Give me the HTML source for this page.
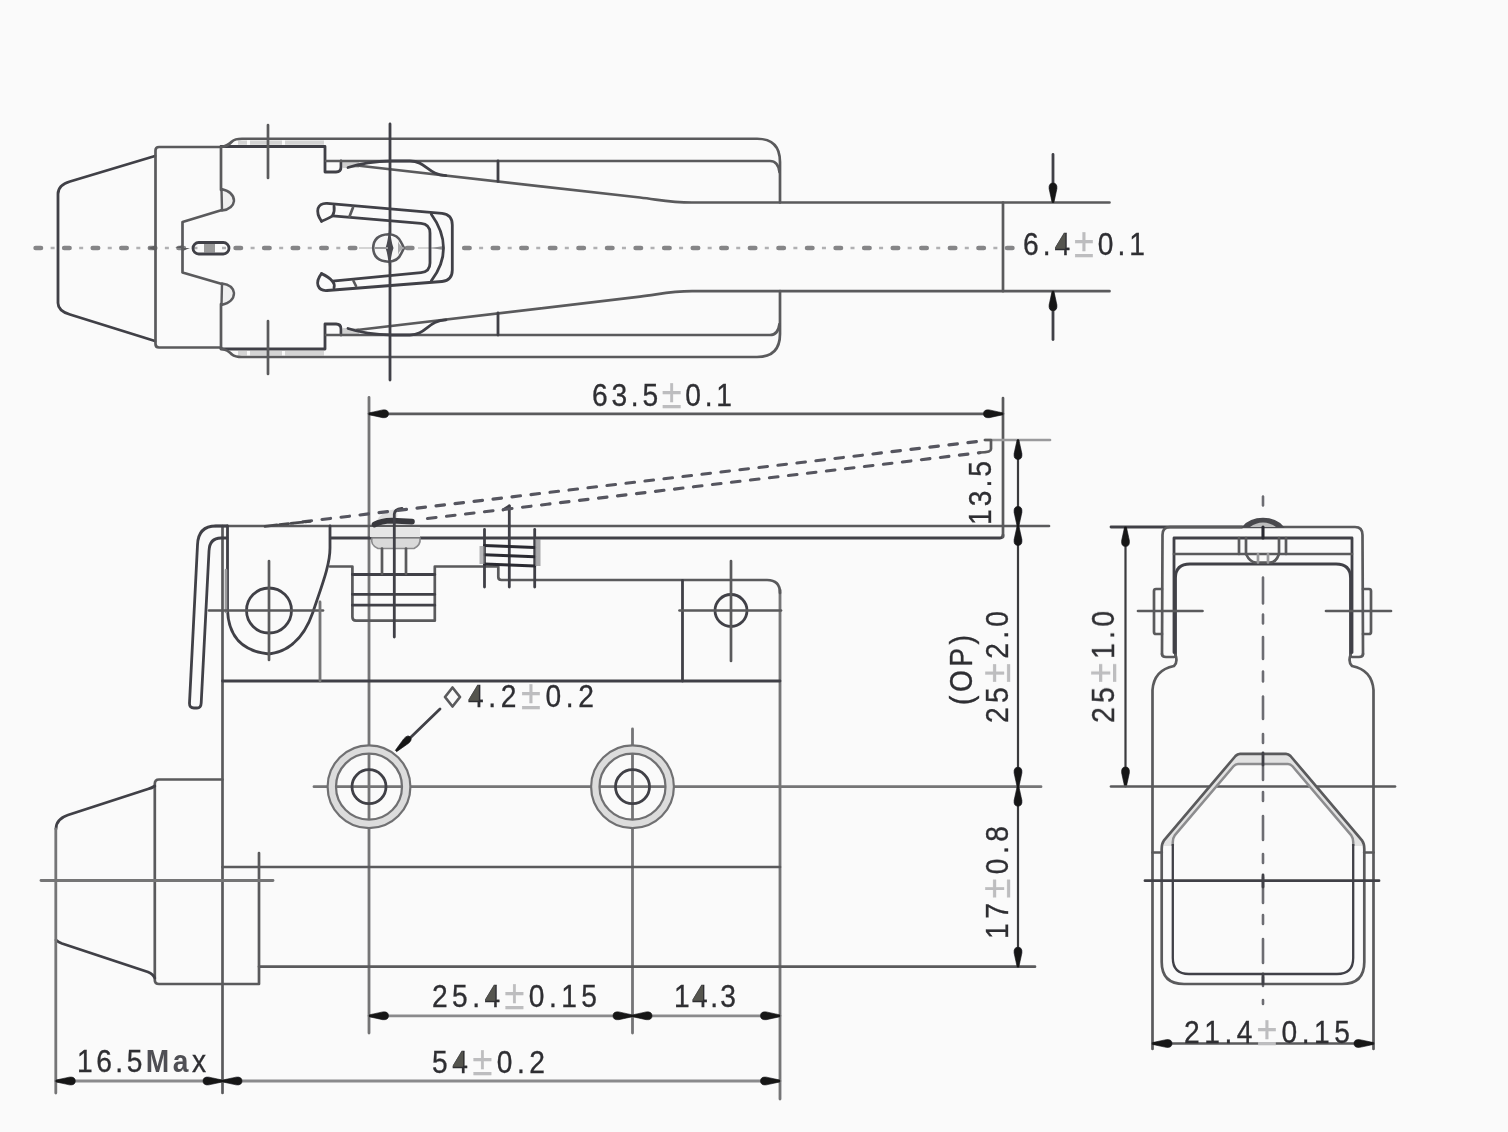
<!DOCTYPE html>
<html><head><meta charset="utf-8"><title>Limit switch dimensions</title>
<style>
html,body{margin:0;padding:0;background:#fafafa;}
body{width:1508px;height:1132px;overflow:hidden;font-family:"Liberation Sans",sans-serif;}
svg{display:block;}
.l{fill:none;stroke:#5a5a5c;stroke-width:2.7;stroke-linecap:round;stroke-linejoin:round;}
.d{fill:none;stroke:#404046;stroke-width:2.8;stroke-linecap:round;stroke-linejoin:round;}
.k{fill:none;stroke:#2c2c30;stroke-width:3.1;stroke-linecap:round;stroke-linejoin:round;}
.g{fill:none;stroke:#747476;stroke-width:2.8;stroke-linecap:round;stroke-linejoin:round;}
.lg{fill:none;stroke:#9a9a9c;stroke-width:2.7;stroke-linecap:round;}
.cl{fill:none;stroke:#858587;stroke-width:4.6;stroke-dasharray:5.4 23.17;stroke-linecap:round;}
.cd{fill:none;stroke:#b0b0b2;stroke-width:2.6;stroke-dasharray:4 24.57;}
.vcl{fill:none;stroke:#6c6c72;stroke-width:2.6;stroke-linecap:round;}
.dash{fill:none;stroke:#55555e;stroke-width:3.1;stroke-dasharray:8.6 10.53;stroke-linecap:round;}
.dl{fill:none;stroke:#8a8a8c;stroke-width:2.8;stroke-linecap:round;}
.dm{fill:none;stroke:#3a3a3e;stroke-width:2.2;stroke-linecap:round;}
.ah{fill:#141416;stroke:#141416;stroke-width:0.6;stroke-linejoin:round;}
.gf{fill:#cfcfcf;stroke:none;}
.t{font-family:"Liberation Sans",sans-serif;fill:#2e2e32;stroke:#2e2e32;stroke-width:0.35px;}
.pm{fill:#bdbdbf;stroke:#bdbdbf;}
</style></head><body>
<svg width="1508" height="1132" viewBox="0 0 1508 1132">
<rect x="0" y="0" width="1508" height="1132" fill="#fafafa"/>
<defs><filter id="soft" x="0" y="0" width="100%" height="100%" filterUnits="userSpaceOnUse"><feGaussianBlur stdDeviation="0.7"/></filter></defs>
<g filter="url(#soft)">
<line class="cl" x1="35.6" y1="248" x2="357" y2="248"/>
<line class="cl" x1="407" y1="248" x2="413" y2="248"/>
<line class="cl" x1="464.2" y1="248" x2="1014.5" y2="248"/>
<line class="cd" x1="50.6" y1="248" x2="345" y2="248"/>
<line class="cd" x1="479.1" y1="248" x2="1010" y2="248"/>
<path d="M359,248 H374 M418,248 H442" stroke="#c8c8c8" stroke-width="1.6" fill="none"/>
<path d="M431,248 L442,246.2 V249.8 Z" fill="#8a8a8c"/>
<path d="M238,142.6 H324" stroke="#d4d4d4" stroke-width="4.4" stroke-dasharray="9 3 32 3 40 3" fill="none"/>
<path d="M238,353.2 H324" stroke="#d4d4d4" stroke-width="4.4" stroke-dasharray="9 3 32 3 40 3" fill="none"/>
<path class="d" d="M155,156 L70,181.5 Q58,185 58,194 V303 Q58,311 70,314.5 L155,341"/>
<path class="l" d="M221,147 H159 Q155.5,147 155.5,150.5 V344 Q155.5,347.5 159,347.5 H221"/>
<path class="l" d="M221,147 V190 M222,210 L182.5,222 V272.5 L222,284 M221,304 V347.5"/>
<path d="M221.5,189 Q234,192 234,201 Q233,209 222,210.5 Z" fill="#efefef" stroke="#5c5c5e" stroke-width="2.4" stroke-linejoin="round"/>
<path d="M221.5,305 Q234,302 234,293 Q233,285 222,283.5 Z" fill="#efefef" stroke="#5c5c5e" stroke-width="2.4" stroke-linejoin="round"/>
<rect x="204" y="243.5" width="11" height="9" fill="#9a9a9a"/>
<rect class="d" x="193" y="242.5" width="36" height="11.5" rx="5.7"/>
<path d="M148,248 L155.5,245.5 L155.5,250.5 Z M175,248 L182.5,245 L182.5,251 L190,248 Z" fill="#5c5c5e"/>
<path class="d" d="M221,146.5 H325 V172 H336 Q341,172 341,167 V161"/>
<path class="d" d="M221,349 H325 V324 H336 Q341,324 341,329 V335"/>
<rect class="gf" x="343" y="161" width="16" height="7" fill="#bdbdbd"/>
<rect class="gf" x="343" y="328" width="16" height="7" fill="#bdbdbd"/>
<path class="l" d="M221,147 Q228,146 232,141.5 Q235,138.75 242,138.75 H757 Q780,138.75 780,162 V202.5"/>
<path class="l" d="M221,348.5 Q228,350 232,354.5 Q235,357 242,357 H757 Q780,357 780,334 V291"/>
<path class="l" d="M326,161 H770 Q778,161 779.5,172"/>
<path class="l" d="M326,335 H770 Q778,335 779.5,324"/>
<path class="l" d="M357,165.5 L640,197.5 C660,199.8 670,202.5 692,202.5 H1109.5"/>
<path class="l" d="M357,330 L640,296.6 C660,294.2 670,291.2 692,291.2 H1109.5"/>
<line class="l" x1="1003" y1="202.5" x2="1003" y2="291.2"/>
<path class="d" d="M348,167.5 Q366,161.5 392,161 H410 C426,161 428,175 446,175.6"/>
<path class="d" d="M348,328.5 Q366,334.5 392,335 H410 C426,335 428,320.5 446,319.8"/>
<line class="d" x1="498" y1="161" x2="498" y2="181.4"/>
<line class="d" x1="498" y1="313" x2="498" y2="335"/>
<line class="l" x1="268" y1="125" x2="268" y2="178"/>
<line class="l" x1="268" y1="321" x2="268" y2="374"/>
<line class="d" x1="390" y1="124" x2="390" y2="380"/>
<path class="d" d="M321.5,221.3 Q316.5,214 318,208.5 Q320,203 327,203.4 L442,213.4 Q452.3,214.5 452.3,225 V270 Q452.3,280.5 442,281.5 L327,290.5 Q320,291 318,285.5 Q316.5,280 321.5,273.6"/>
<path class="d" d="M321.5,221.3 Q330,217.5 332.5,215.8 Q335,211 334,206 M321.5,273.6 Q329,277 332.5,281.3 Q335,284 334,288"/>
<path class="d" d="M332.5,215.8 L421,223.4 Q430,224.3 430,233 V263 Q430,271.7 421,272.6 L332.5,281.2"/>
<path class="l" d="M353,207.5 L349.5,216.5 M353.5,281 L356,286"/>
<path class="d" d="M431.3,214.2 Q443.5,231 443.5,248 Q443.5,265 431.3,280.8"/>
<path d="M388.5,234.3 Q398,234.5 401.5,243 L404,248 L401.5,253 Q398,261.5 388.5,261.7 Q373.5,261 373.2,248 Q373.5,235 388.5,234.3 Z" fill="#f6f6f6" stroke="#58585c" stroke-width="2.6"/>
<path d="M398,241 Q399,246 405,248 Q399,250 398,255 Z" fill="#a8a8aa"/>
<path d="M389.5,224 Q391,242 393.5,248 Q391,254 389.5,272 Q388,254 385.5,248 Q388,242 389.5,224 Z" fill="#4a4a50"/>
<path d="M374,248 H388" stroke="#9a9a9c" stroke-width="2" fill="none"/>
<line class="d" x1="1053" y1="154.5" x2="1053" y2="200"/>
<line class="d" x1="1053" y1="294" x2="1053" y2="339.5"/>
<path class="ah" d="M0,-0.9 L13.6,-3.87 Q19.5,-4.51 19.5,0 Q19.5,4.51 13.6,3.87 L0,0.9 Z" transform="translate(1053,202.5) rotate(-90)"/>
<path class="ah" d="M0,-0.9 L13.6,-3.87 Q19.5,-4.51 19.5,0 Q19.5,4.51 13.6,3.87 L0,0.9 Z" transform="translate(1053,291.2) rotate(90)"/>
<g transform="translate(1023,255) scale(0.88,1)"><text id="t1" class="t" x="0" y="0" font-size="32" textLength="138.6" lengthAdjust="spacing">6.4<tspan class="pm" font-size="41" dy="2">±</tspan><tspan dy="-2">0.1</tspan></text><polygon points="47.5,-21.3 37.2,-6.9 47.5,-6.9" fill="#55554f" stroke="#55554f" stroke-width="1.2" stroke-linejoin="round"/></g>
<line class="g" x1="369" y1="397.5" x2="369" y2="1033"/>
<line class="g" x1="632.5" y1="729" x2="632.5" y2="1033"/>
<line class="l" x1="222.5" y1="526" x2="222.5" y2="1093"/>
<line class="g" x1="780" y1="590" x2="780" y2="1099"/>
<line class="l" x1="215" y1="526" x2="1049" y2="526"/>
<path class="d" d="M331,538 H1000 Q1003,538 1003,535"/>
<line class="l" x1="1003" y1="398" x2="1003" y2="537"/>
<line class="d" x1="222.5" y1="681" x2="780" y2="681"/>
<line class="l" x1="222.5" y1="867" x2="780" y2="867"/>
<line class="l" x1="259" y1="966.7" x2="1035" y2="966.7"/>
<line class="g" x1="314" y1="786.7" x2="1041" y2="786.7"/>
<path class="d" d="M227,526 H216 Q198,526 197.5,545 L189.5,703 Q189.3,708 194,708 H197 Q201,708 201.2,703 L209,551 Q209.5,538 221,538 H227"/>
<path class="d" d="M227.5,526 V610 Q229,650 269,654 Q300,650 313,612 C322,585 330,565 330,548 V526"/>
<line class="lg" x1="226" y1="570" x2="226" y2="612"/>
<circle class="d" cx="269" cy="610.5" r="22.5"/>
<line class="l" x1="209" y1="610.5" x2="323" y2="610.5"/>
<line class="l" x1="269" y1="561" x2="269" y2="660"/>
<line class="g" x1="320" y1="602" x2="320" y2="681"/>
<path class="l" d="M330,566.5 H352.4 V617 Q352.4,620.7 356,620.7 H434.8 V566.5 H498.3 V577 Q498.3,580 501.5,580 H767 Q780,580 780,593"/>
<path class="d" d="M352.4,574.5 H434.8 M352.4,594.3 H434.8 M352.4,605.2 H434.8"/>
<rect x="370" y="527" width="50" height="10" fill="#e6e6e6"/>
<path d="M372,538 H420 Q421,545 414,548.5 H378 Q370,545 372,538 Z" fill="#d9d9d9" stroke="#8a8a8c" stroke-width="1.6"/>
<line class="l" x1="382" y1="548.5" x2="382" y2="574"/>
<line class="l" x1="406" y1="548.5" x2="406" y2="574"/>
<path d="M376,522 Q382,510 394,509.5 Q400,510 396,520 Z" fill="#dedede"/>
<path d="M374.5,524.5 Q381,520.8 392,520.6 L412,521.6" fill="none" stroke="#38383c" stroke-width="5.6" stroke-linecap="round"/>
<path class="d" d="M394.3,637 V514 Q394.3,509.5 402,508.5"/>
<line class="d" x1="484.5" y1="529.5" x2="484.5" y2="587"/>
<line class="d" x1="509.3" y1="506" x2="509.3" y2="587"/>
<line class="d" x1="534.7" y1="529.5" x2="534.7" y2="587"/>
<path class="d" d="M503,510 L509.3,506"/>
<path class="k" d="M484.5,545.5 L534.7,547.5"/>
<path class="k" d="M484.5,554.8 L534.7,556.8"/>
<path class="k" d="M484.5,564 L534.7,566"/>
<rect x="479.5" y="546" width="5" height="18" fill="#9a9a9c" opacity="0.7"/>
<rect x="535" y="539" width="5.5" height="27" fill="#88888a" opacity="0.7"/>
<line class="d" x1="682.5" y1="580.5" x2="682.5" y2="681"/>
<circle class="d" cx="731" cy="610.5" r="16"/>
<line class="l" x1="679.5" y1="610.5" x2="781" y2="610.5"/>
<line class="l" x1="731" y1="561" x2="731" y2="661"/>
<circle cx="369" cy="786.7" r="37.2" fill="none" stroke="#dcdcdc" stroke-width="8.5"/>
<circle cx="369" cy="786.7" r="41.4" fill="none" stroke="#707072" stroke-width="2.2"/>
<circle cx="369" cy="786.7" r="33" fill="none" stroke="#707072" stroke-width="2.2"/>
<circle class="d" cx="369" cy="786.7" r="17"/>
<circle cx="632.5" cy="786.7" r="37.2" fill="none" stroke="#dcdcdc" stroke-width="8.5"/>
<circle cx="632.5" cy="786.7" r="41.4" fill="none" stroke="#707072" stroke-width="2.2"/>
<circle cx="632.5" cy="786.7" r="33" fill="none" stroke="#707072" stroke-width="2.2"/>
<circle class="d" cx="632.5" cy="786.7" r="17"/>
<path class="l" d="M222.5,779.5 H159 Q154.8,779.5 154.8,784 V980 Q154.8,984 159,984 H259 V853"/>
<path class="d" d="M154.8,786 Q152,788 148,789 L68,815 Q56,819 56,829"/>
<path class="d" d="M56,940 Q58,942 62,943.5 L148,972 Q153,974 154.8,978"/>
<line class="g" x1="55.8" y1="829" x2="55.8" y2="1093"/>
<line class="g" x1="41" y1="880.5" x2="273" y2="880.5"/>
<line class="dash" x1="303" y1="521.7" x2="979" y2="441.3"/>
<line class="dash" x1="427.5" y1="518.5" x2="980" y2="452.7"/>
<path d="M265,526.3 L310,521.3" fill="none" stroke="#4a4a4e" stroke-width="2.8" stroke-dasharray="12 2.5 9 2.5" stroke-linecap="round"/>
<path class="lg" d="M985,440 H1050"/>
<path class="l" d="M985,440 H991 V449 Q991,452.5 980,452.5"/>
<line class="d" x1="440" y1="709" x2="410" y2="738"/>
<path class="ah" d="M0,-0.9 L14.0,-3.24 Q20,-3.78 20,0 Q20,3.78 14.0,3.24 L0,0.9 Z" transform="translate(396,751) rotate(-44.5)"/>
<line class="l" x1="369" y1="413.8" x2="1003" y2="413.8"/>
<path class="ah" d="M0,-0.9 L13.6,-3.87 Q19.5,-4.51 19.5,0 Q19.5,4.51 13.6,3.87 L0,0.9 Z" transform="translate(369,413.8) rotate(0)"/>
<path class="ah" d="M0,-0.9 L13.6,-3.87 Q19.5,-4.51 19.5,0 Q19.5,4.51 13.6,3.87 L0,0.9 Z" transform="translate(1003,413.8) rotate(180)"/>
<g transform="translate(592,406) scale(0.88,1)"><text id="t2" class="t" x="0" y="0" font-size="32" textLength="159.1" lengthAdjust="spacing">63.5<tspan class="pm" font-size="41" dy="2">±</tspan><tspan dy="-2">0.1</tspan></text></g>
<line class="dm" x1="1018" y1="440" x2="1018" y2="966.7"/>
<path class="ah" d="M0,-0.9 L13.6,-3.87 Q19.5,-4.51 19.5,0 Q19.5,4.51 13.6,3.87 L0,0.9 Z" transform="translate(1018,440) rotate(90)"/>
<path class="ah" d="M0,-0.9 L13.6,-3.87 Q19.5,-4.51 19.5,0 Q19.5,4.51 13.6,3.87 L0,0.9 Z" transform="translate(1018,526) rotate(-90)"/>
<path class="ah" d="M0,-0.9 L13.6,-3.87 Q19.5,-4.51 19.5,0 Q19.5,4.51 13.6,3.87 L0,0.9 Z" transform="translate(1018,526) rotate(90)"/>
<path class="ah" d="M0,-0.9 L13.6,-3.87 Q19.5,-4.51 19.5,0 Q19.5,4.51 13.6,3.87 L0,0.9 Z" transform="translate(1018,786.7) rotate(-90)"/>
<path class="ah" d="M0,-0.9 L13.6,-3.87 Q19.5,-4.51 19.5,0 Q19.5,4.51 13.6,3.87 L0,0.9 Z" transform="translate(1018,786.7) rotate(90)"/>
<path class="ah" d="M0,-0.9 L13.6,-3.87 Q19.5,-4.51 19.5,0 Q19.5,4.51 13.6,3.87 L0,0.9 Z" transform="translate(1018,966.7) rotate(-90)"/>
<g transform="translate(991,525) rotate(-90) scale(0.88,1)"><text id="t3" class="t" x="0" y="0" font-size="32" textLength="72.7" lengthAdjust="spacing">13.5</text></g>
<g transform="translate(972,705) rotate(-90) scale(0.88,1)"><text id="t4" class="t" x="0" y="0" font-size="32" textLength="79.5" lengthAdjust="spacing">(OP)</text></g>
<g transform="translate(1007.5,723) rotate(-90) scale(0.88,1)"><text id="t5" class="t" x="0" y="0" font-size="32" textLength="127.3" lengthAdjust="spacing">25<tspan class="pm" font-size="41" dy="2">±</tspan><tspan dy="-2">2.0</tspan></text></g>
<g transform="translate(1007.5,939) rotate(-90) scale(0.88,1)"><text id="t6" class="t" x="0" y="0" font-size="32" textLength="128.4" lengthAdjust="spacing">17<tspan class="pm" font-size="41" dy="2">±</tspan><tspan dy="-2">0.8</tspan></text></g>
<path class="l" d="M452.5,687.5 L460,697 L452.5,706.5 L445,697 Z"/>
<g transform="translate(468,707) scale(0.88,1)"><text id="t7" class="t" x="0" y="0" font-size="32" textLength="143.2" lengthAdjust="spacing">4.2<tspan class="pm" font-size="41" dy="2">±</tspan><tspan dy="-2">0.2</tspan></text><polygon points="11.7,-21.3 1.4,-6.9 11.7,-6.9" fill="#55554f" stroke="#55554f" stroke-width="1.2" stroke-linejoin="round"/></g>
<line class="dl" x1="369" y1="1015.8" x2="780" y2="1015.8"/>
<path class="ah" d="M0,-0.9 L13.6,-3.87 Q19.5,-4.51 19.5,0 Q19.5,4.51 13.6,3.87 L0,0.9 Z" transform="translate(369,1015.8) rotate(0)"/>
<path class="ah" d="M0,-0.9 L13.6,-3.87 Q19.5,-4.51 19.5,0 Q19.5,4.51 13.6,3.87 L0,0.9 Z" transform="translate(632.5,1015.8) rotate(180)"/>
<path class="ah" d="M0,-0.9 L13.6,-3.87 Q19.5,-4.51 19.5,0 Q19.5,4.51 13.6,3.87 L0,0.9 Z" transform="translate(632.5,1015.8) rotate(0)"/>
<path class="ah" d="M0,-0.9 L13.6,-3.87 Q19.5,-4.51 19.5,0 Q19.5,4.51 13.6,3.87 L0,0.9 Z" transform="translate(780,1015.8) rotate(180)"/>
<g transform="translate(432,1007) scale(0.88,1)"><text id="t8" class="t" x="0" y="0" font-size="32" textLength="187.5" lengthAdjust="spacing">25.4<tspan class="pm" font-size="41" dy="2">±</tspan><tspan dy="-2">0.15</tspan></text><polygon points="71.4,-21.3 61.1,-6.9 71.4,-6.9" fill="#55554f" stroke="#55554f" stroke-width="1.2" stroke-linejoin="round"/></g>
<g transform="translate(674,1007) scale(0.88,1)"><text id="t9" class="t" x="0" y="0" font-size="32" textLength="70.5" lengthAdjust="spacing">14.3</text><polygon points="32.3,-21.3 22.0,-6.9 32.3,-6.9" fill="#55554f" stroke="#55554f" stroke-width="1.2" stroke-linejoin="round"/></g>
<line class="dl" x1="55.8" y1="1081" x2="780" y2="1081"/>
<path class="ah" d="M0,-0.9 L13.6,-3.87 Q19.5,-4.51 19.5,0 Q19.5,4.51 13.6,3.87 L0,0.9 Z" transform="translate(55.8,1081) rotate(0)"/>
<path class="ah" d="M0,-0.9 L13.6,-3.87 Q19.5,-4.51 19.5,0 Q19.5,4.51 13.6,3.87 L0,0.9 Z" transform="translate(222.5,1081) rotate(180)"/>
<path class="ah" d="M0,-0.9 L13.6,-3.87 Q19.5,-4.51 19.5,0 Q19.5,4.51 13.6,3.87 L0,0.9 Z" transform="translate(222.5,1081) rotate(0)"/>
<path class="ah" d="M0,-0.9 L13.6,-3.87 Q19.5,-4.51 19.5,0 Q19.5,4.51 13.6,3.87 L0,0.9 Z" transform="translate(780,1081) rotate(180)"/>
<g transform="translate(77,1071.5) scale(0.88,1)"><text id="t10" class="t" x="0" y="0" font-size="32" textLength="146.6" lengthAdjust="spacing">16.5<tspan font-weight="bold" fill="#505054" stroke="none">Ma</tspan>x</text></g>
<g transform="translate(432,1073) scale(0.88,1)"><text id="t11" class="t" x="0" y="0" font-size="32" textLength="128.4" lengthAdjust="spacing">54<tspan class="pm" font-size="41" dy="2">±</tspan><tspan dy="-2">0.2</tspan></text><polygon points="34.7,-21.3 24.4,-6.9 34.7,-6.9" fill="#55554f" stroke="#55554f" stroke-width="1.2" stroke-linejoin="round"/></g>
<line class="vcl" x1="1263" y1="496.5" x2="1263" y2="1004" stroke-dasharray="9 72 26 11 9 13.5 22 12.5 10 15 22.5 15 9 11 26 12 9 15 24 14 9 14 26 12 9 15 24 14 9 14 34 35 9 100"/>
<line class="d" x1="1111" y1="527" x2="1242" y2="527"/>
<line class="dm" x1="1125.5" y1="527" x2="1125.5" y2="786.5"/>
<path class="ah" d="M0,-0.9 L13.6,-3.87 Q19.5,-4.51 19.5,0 Q19.5,4.51 13.6,3.87 L0,0.9 Z" transform="translate(1125.5,527) rotate(90)"/>
<path class="ah" d="M0,-0.9 L13.6,-3.87 Q19.5,-4.51 19.5,0 Q19.5,4.51 13.6,3.87 L0,0.9 Z" transform="translate(1125.5,786.5) rotate(-90)"/>
<line class="l" x1="1111" y1="786.5" x2="1395" y2="786.5"/>
<g transform="translate(1114,723) rotate(-90) scale(0.88,1)"><text id="t12" class="t" x="0" y="0" font-size="32" textLength="127.3" lengthAdjust="spacing">25<tspan class="pm" font-size="41" dy="2">±</tspan><tspan dy="-2">1.0</tspan></text></g>
<path class="l" d="M1162,654 L1162.5,535 Q1162.5,527 1170,527 H1355 Q1362.5,527 1362.5,535 L1363,654"/>
<path class="d" d="M1174,652.5 V538 H1352 V652.5"/>
<line class="l" x1="1174" y1="554" x2="1352" y2="554"/>
<path class="l" d="M1162,654 Q1162,657 1166,657 H1174 M1363,654 Q1363,657 1359,657 H1352"/>
<path class="d" d="M1175.5,655 V578 Q1175.5,564 1190,564 H1336 Q1350.5,564 1350.5,578 V655"/>
<path class="l" d="M1175.5,655 Q1178,662 1174,666 Q1154,670 1152.5,690 V1049"/>
<path class="l" d="M1350.5,655 Q1348,662 1352,666 Q1372,670 1373.5,690 V1049"/>
<path class="l" d="M1162,589 H1156 Q1154,589 1154,591 V632 Q1154,634 1156,634 H1162"/>
<path class="l" d="M1363,589 H1369 Q1371,589 1371,591 V632 Q1371,634 1369,634 H1363"/>
<line class="l" x1="1138" y1="611" x2="1202.5" y2="611"/>
<line class="l" x1="1326" y1="611" x2="1391" y2="611"/>
<path d="M1243,527 Q1250,518.5 1263,518.5 Q1276,518.5 1283,527 Z" fill="#4a4a4e" stroke="#4a4a4e" stroke-width="1.5"/>
<path d="M1250,527 Q1256,522.5 1263,522.5 Q1270,522.5 1276,527 Z" fill="#bdbdbd"/>
<line class="k" x1="1263" y1="527" x2="1263" y2="538"/>
<path class="l" d="M1239,538 V554 M1246,538 V554 M1279,538 V554 M1286,538 V554"/>
<path class="l" d="M1246,554 Q1250,562.5 1256,562.5 H1270 Q1276,562.5 1279,554"/>
<path class="lg" d="M1258,554 V562.5 M1268,554 V562.5"/>
<path fill-rule="evenodd" fill="#e2e2e2" d="M1161.7,846 L1163.8,840.7 L1236,756 L1240,753.8 H1286 L1290,756 L1362.2,840.7 L1364.3,846 Z M1172.8,846 L1174.7,835.4 L1233.5,766.3 L1238,764 H1288 L1292.5,766.3 L1351.3,835.4 L1353.2,846 Z"/>
<path class="l" d="M1240,753.8 H1286 Q1288.5,753.8 1290.5,756 L1362.2,840.7 Q1364.3,843.5 1364.3,849 V962 Q1364.3,984 1342,984 H1184 Q1161.7,984 1161.7,962 V849 Q1161.7,843.5 1163.8,840.7 L1235.5,756 Q1237.5,753.8 1240,753.8 Z"/>
<path d="M1172.8,846 V842 Q1172.8,838 1174.7,835.4 L1233.5,766.3 Q1235.5,764 1238,764 H1288 Q1290.5,764 1292.5,766.3 L1351.3,835.4 Q1353.2,838 1353.2,842 V846" fill="none" stroke="#8c8c8e" stroke-width="2.5" stroke-linejoin="round"/>
<path d="M1172.8,844 V958 Q1172.8,974 1189,974 H1337 Q1353.2,974 1353.2,958 V844" fill="none" stroke="#404046" stroke-width="2.3" stroke-linejoin="round"/>
<line class="l" x1="1152.5" y1="852.5" x2="1161.7" y2="852.5"/>
<line class="l" x1="1364.3" y1="852.5" x2="1373.5" y2="852.5"/>
<line class="d" x1="1145" y1="880.7" x2="1379" y2="880.7"/>
<line class="d" x1="1263" y1="753" x2="1263" y2="765"/>
<line class="d" x1="1263" y1="974" x2="1263" y2="984"/>
<line class="d" x1="1263" y1="875" x2="1263" y2="887"/>
<line class="l" x1="1152.5" y1="1043.5" x2="1373.5" y2="1043.5"/>
<path class="ah" d="M0,-0.9 L13.6,-3.87 Q19.5,-4.51 19.5,0 Q19.5,4.51 13.6,3.87 L0,0.9 Z" transform="translate(1152.5,1043.5) rotate(0)"/>
<path class="ah" d="M0,-0.9 L13.6,-3.87 Q19.5,-4.51 19.5,0 Q19.5,4.51 13.6,3.87 L0,0.9 Z" transform="translate(1373.5,1043.5) rotate(180)"/>
<g transform="translate(1184,1042.5) scale(0.88,1)"><text id="t13" class="t" x="0" y="0" font-size="32" textLength="188.6" lengthAdjust="spacing">21.4<tspan class="pm" font-size="41" dy="2">±</tspan><tspan dy="-2">0.15</tspan></text></g>
</g>
</svg>
</body></html>
